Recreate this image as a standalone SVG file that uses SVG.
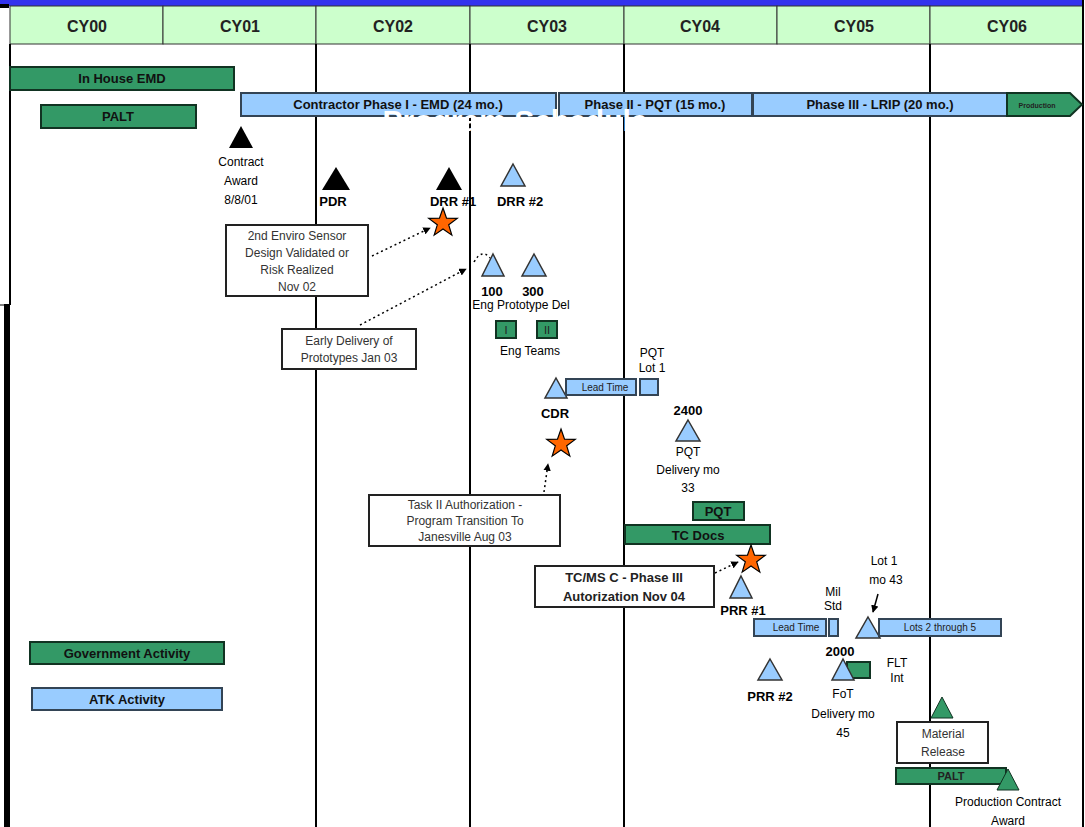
<svg xmlns="http://www.w3.org/2000/svg" width="1085" height="827" viewBox="0 0 1085 827">
<style>
.hdr{fill:#ccffcc;stroke:#333;stroke-width:1}
.hdrt{font-family:"Liberation Sans",Arial,sans-serif;font-weight:bold;font-size:16px;fill:#222;text-anchor:middle}
.vl{stroke:#000;stroke-width:2}
.gbar{fill:#339966;stroke:#113322;stroke-width:2}
.bbar{fill:#99ccff;stroke:#334455;stroke-width:2}
.bt{font-family:"Liberation Sans",Arial,sans-serif;font-weight:bold;font-size:13px;fill:#111;text-anchor:middle}
.st{font-family:"Liberation Sans",Arial,sans-serif;font-size:10px;fill:#222;text-anchor:middle}
.lbl{font-family:"Liberation Sans",Arial,sans-serif;font-size:12px;fill:#000;text-anchor:middle}
.lblb{font-family:"Liberation Sans",Arial,sans-serif;font-weight:bold;font-size:13px;fill:#000;text-anchor:middle}
.box{fill:#fff;stroke:#222;stroke-width:2}
.boxt{font-family:"Liberation Sans",Arial,sans-serif;font-size:12px;fill:#333;text-anchor:middle}
.boxtb{font-family:"Liberation Sans",Arial,sans-serif;font-weight:bold;font-size:13px;fill:#222;text-anchor:middle}
.tk{fill:#000}
.tb{fill:#99ccff;stroke:#333;stroke-width:1.5}
.tg{fill:#339966;stroke:#113322;stroke-width:1}
.star{fill:#ff6600;stroke:#000;stroke-width:1.2}
.dot{stroke:#000;stroke-width:1.5;stroke-dasharray:2 3;fill:none}
</style>
<defs>
<path id="star" d="M0,-15 L3.53,-4.85 L14.27,-4.64 L5.71,1.85 L8.82,12.14 L0,6 L-8.82,12.14 L-5.71,1.85 L-14.27,-4.64 L-3.53,-4.85 Z"/>
<marker id="ah" viewBox="0 0 10 10" refX="9" refY="5" markerWidth="5" markerHeight="5" orient="auto">
<path d="M0,0 L10,5 L0,10 Z" fill="#000"/>
</marker>
</defs>
<rect x="0" y="0" width="1085" height="827" fill="#fff"/>
<rect x="0" y="0" width="1083" height="6" fill="#3333ee"/>
<rect x="0" y="4" width="9" height="4" fill="#000"/>

<g id="header">
<rect class="hdr" x="10" y="6" width="153" height="38"/>
<rect class="hdr" x="163" y="6" width="153" height="38"/>
<rect class="hdr" x="316" y="6" width="154" height="38"/>
<rect class="hdr" x="470" y="6" width="154" height="38"/>
<rect class="hdr" x="624" y="6" width="153" height="38"/>
<rect class="hdr" x="777" y="6" width="153" height="38"/>
<rect class="hdr" x="930" y="6" width="153" height="38"/>
<text class="hdrt" x="87" y="32">CY00</text>
<text class="hdrt" x="240" y="32">CY01</text>
<text class="hdrt" x="393" y="32">CY02</text>
<text class="hdrt" x="547" y="32">CY03</text>
<text class="hdrt" x="700" y="32">CY04</text>
<text class="hdrt" x="854" y="32">CY05</text>
<text class="hdrt" x="1007" y="32">CY06</text>
</g>

<g id="gridlines">
<line class="vl" x1="10" y1="44" x2="10" y2="305"/>
<rect x="4" y="304" width="6" height="523" fill="#000"/>
<line x1="0" y1="305" x2="8" y2="305" stroke="#000" stroke-width="1"/>
<line class="vl" x1="316" y1="44" x2="316" y2="827"/>
<line class="vl" x1="470" y1="44" x2="470" y2="827"/>
<line class="vl" x1="624" y1="44" x2="624" y2="827"/>
<line class="vl" x1="930" y1="44" x2="930" y2="827"/>
<line class="vl" x1="1083" y1="0" x2="1083" y2="827"/>
</g>

<g id="in-house-emd"><rect class="gbar" x="10" y="67" width="224" height="23"/><text class="bt" x="122" y="83">In House EMD</text></g>
<g id="palt-top"><rect class="gbar" x="41" y="105" width="155" height="23"/><text class="bt" x="118" y="121">PALT</text></g>
<g id="phase1"><rect class="bbar" x="241" y="93" width="315" height="23"/><text class="bt" x="398" y="109">Contractor Phase I - EMD (24 mo.)</text></g>
<g id="phase2"><rect class="bbar" x="559" y="93" width="193" height="23"/><text class="bt" x="655" y="109">Phase II - PQT (15 mo.)</text></g>
<g id="phase3"><rect class="bbar" x="753" y="93" width="254" height="23"/><text class="bt" x="880" y="109">Phase III - LRIP (20 mo.)</text></g>
<g id="production"><path class="gbar" d="M1007,93 L1070,93 L1082,104.5 L1070,116 L1007,116 Z"/><text class="st" x="1037" y="108" style="font-size:7px;font-weight:bold">Production</text></g>

<text x="515" y="131" style="font-family:'Liberation Sans',Arial,sans-serif;font-weight:bold;font-size:30px;fill:#fff;text-anchor:middle">Program Schedule</text>

<g id="connectors">
<line class="dot" x1="372" y1="256" x2="430" y2="228" marker-end="url(#ah)"/>
<line class="dot" x1="360" y1="325" x2="466" y2="269" marker-end="url(#ah)"/>
<line class="dot" x1="544" y1="492" x2="548" y2="464" marker-end="url(#ah)"/>
<line class="dot" x1="715" y1="573" x2="738" y2="562" marker-end="url(#ah)"/>
<line x1="878" y1="594" x2="873" y2="612" stroke="#000" stroke-width="1.5" marker-end="url(#ah)"/>
<path d="M474,262 Q482,248 490,258" class="dot"/>
</g>

<g id="contract-award"><polygon class="tk" points="241,126 253,148 229,148"/>
<text class="lbl" x="241" y="166">Contract</text><text class="lbl" x="241" y="185">Award</text><text class="lbl" x="241" y="204">8/8/01</text></g>
<g id="pdr"><polygon class="tk" points="336,167 350,190 322,190"/><text class="lblb" x="333" y="206">PDR</text></g>
<g id="drr1"><polygon class="tk" points="449,167 462,190 436,190"/><text class="lblb" x="453" y="206">DRR #1</text></g>
<g id="drr2"><polygon class="tb" points="513,164 525,186 501,186"/><text class="lblb" x="520" y="206">DRR #2</text></g>
<g id="star1"><use href="#star" class="star" x="443" y="223"/></g>

<g id="box-enviro"><rect class="box" x="226" y="225" width="142" height="71"/>
<text class="boxt" x="297" y="240">2nd Enviro Sensor</text><text class="boxt" x="297" y="257">Design Validated or</text><text class="boxt" x="297" y="274">Risk Realized</text><text class="boxt" x="297" y="291">Nov 02</text></g>

<g id="eng-proto"><polygon class="tb" points="493,254 504,276 482,276"/><polygon class="tb" points="534,254 546,276 522,276"/>
<text class="lblb" x="492" y="296">100</text><text class="lblb" x="533" y="296">300</text><text class="lbl" x="521" y="309">Eng Prototype Del</text></g>

<g id="box-early"><rect class="box" x="282" y="329" width="134" height="40"/>
<text class="boxt" x="349" y="345">Early Delivery of</text><text class="boxt" x="349" y="362">Prototypes Jan 03</text></g>

<g id="eng-teams"><rect class="gbar" x="496" y="321" width="20" height="17"/><text class="st" x="506" y="334" style="font-size:11px">I</text>
<rect class="gbar" x="537" y="321" width="20" height="17"/><text class="st" x="547" y="334" style="font-size:11px">II</text>
<text class="lbl" x="530" y="355">Eng Teams</text></g>

<g id="cdr"><polygon class="tb" points="556,378 567,398 545,398"/><rect class="bbar" x="566" y="379" width="70" height="16"/><text class="st" x="605" y="391">Lead Time</text>
<rect class="bbar" x="640" y="379" width="18" height="16"/><text class="lblb" x="555" y="418">CDR</text></g>
<g id="pqt-lot1"><text class="lbl" x="652" y="357">PQT</text><text class="lbl" x="652" y="372">Lot 1</text></g>
<g id="pqt-del"><text class="lblb" x="688" y="415">2400</text><polygon class="tb" points="688,420 700,441 676,441"/>
<text class="lbl" x="688" y="456">PQT</text><text class="lbl" x="688" y="474">Delivery mo</text><text class="lbl" x="688" y="492">33</text></g>
<g id="star2"><use href="#star" class="star" x="561" y="444"/></g>

<g id="box-task2"><rect class="box" x="369" y="495" width="191" height="51"/>
<text class="boxt" x="465" y="509">Task II Authorization -</text><text class="boxt" x="465" y="525">Program Transition To</text><text class="boxt" x="465" y="541">Janesville Aug 03</text></g>

<g id="pqt-bar"><rect class="gbar" x="693" y="502" width="51" height="18"/><text class="bt" x="718" y="516">PQT</text></g>
<g id="tc-docs"><rect class="gbar" x="625" y="525" width="145" height="19"/><text class="bt" x="698" y="540">TC Docs</text></g>
<g id="star3"><use href="#star" class="star" x="751" y="560"/></g>

<g id="box-tcms"><rect class="box" x="535" y="566" width="179" height="41"/>
<text class="boxtb" x="624" y="582">TC/MS C -  Phase III</text><text class="boxtb" x="624" y="601">Autorization Nov 04</text></g>

<g id="prr1"><polygon class="tb" points="741,576 752,598 730,598"/><text class="lblb" x="743" y="615">PRR #1</text></g>
<g id="lrip-lead"><rect class="bbar" x="754" y="619" width="72" height="17"/><text class="st" x="796" y="631">Lead Time</text><rect class="bbar" x="829" y="619" width="9" height="17"/></g>
<g id="mil-std"><text class="lbl" x="833" y="596">Mil</text><text class="lbl" x="833" y="610">Std</text></g>
<g id="lrip-lot1"><text class="lbl" x="884" y="565">Lot 1</text><text class="lbl" x="886" y="584">mo 43</text><polygon class="tb" points="868,617 880,638 856,638"/></g>
<g id="lots2-5"><rect class="bbar" x="879" y="619" width="122" height="17"/><text class="st" x="940" y="631">Lots 2 through 5</text></g>

<g id="fot"><text class="lblb" x="840" y="656">2000</text><rect class="gbar" x="847" y="662" width="23" height="16"/><polygon class="tb" points="843,659 854,680 832,680"/>
<text class="lbl" x="897" y="667">FLT</text><text class="lbl" x="897" y="682">Int</text>
<text class="lbl" x="843" y="698">FoT</text><text class="lbl" x="843" y="718">Delivery mo</text><text class="lbl" x="843" y="737">45</text></g>
<g id="prr2"><polygon class="tb" points="770,659 782,680 758,680"/><text class="lblb" x="770" y="701">PRR #2</text></g>

<g id="material-release"><polygon class="tg" points="942,697 953,718 931,718"/><rect class="box" x="897" y="722" width="91" height="41"/>
<text class="boxt" x="943" y="738">Material</text><text class="boxt" x="943" y="756">Release</text></g>
<g id="palt-bottom"><rect class="gbar" x="896" y="768" width="110" height="16"/><text class="st" x="951" y="780" style="font-weight:bold;font-size:11px">PALT</text></g>
<g id="prod-award"><polygon class="tg" points="1008,769 1019,790 997,790"/><text class="lbl" x="1008" y="806">Production Contract</text><text class="lbl" x="1008" y="825">Award</text></g>

<g id="gov-activity"><rect class="gbar" x="30" y="642" width="194" height="22"/><text class="bt" x="127" y="658">Government Activity</text></g>
<g id="atk-activity"><rect class="bbar" x="32" y="688" width="190" height="22"/><text class="bt" x="127" y="704">ATK Activity</text></g>
</svg>
